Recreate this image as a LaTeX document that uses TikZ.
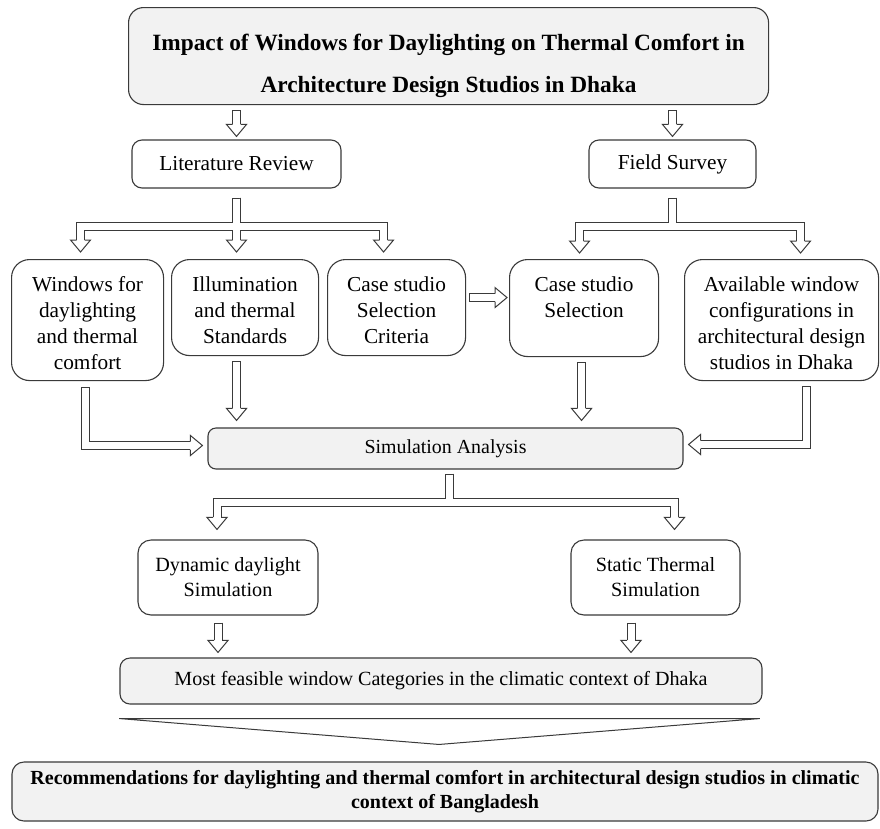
\documentclass[tikz,border=0pt]{standalone}
\usepackage{fontspec}
\setmainfont{Liberation Serif}
\usetikzlibrary{calc}
\definecolor{boxfill}{HTML}{F2F2F2}
\definecolor{linec}{HTML}{3A3A3A}
\newcommand{\tb}[4]{\parbox[c][#2][t]{#1}{\centering\rule{0pt}{#3}#4\par}}
\begin{document}
\begin{tikzpicture}[x=1pt,y=-1pt]
\tikzset{
  box/.style={draw=linec, line width=1.1pt, rounded corners=#1, inner sep=0pt, align=center, text=black},
  box/.default=10pt,
  rowfont/.style={font=\fontsize{21.3}{26}\selectfont},
  lowfont/.style={font=\fontsize{20.2}{25}\selectfont},
  so/.style={draw=linec, line width=9pt, line join=miter},
  si/.style={draw=white, line width=7pt, line join=miter},
  hdown/.pic={\filldraw[fill=white, draw=linec, line width=1pt, line join=miter] (-4,-12) -- (-10,-12) -- (0,0) -- (10,-12) -- (4,-12);},
  hright/.pic={\filldraw[fill=white, draw=linec, line width=1pt, line join=miter] (-12,-4) -- (-12,-10) -- (0,0) -- (-12,10) -- (-12,4);},
  hleft/.pic={\filldraw[fill=white, draw=linec, line width=1pt, line join=miter] (12,-4) -- (12,-10) -- (0,0) -- (12,10) -- (12,4);},
}
\useasboundingbox (0,0) rectangle (880,828);
\fill[white] (0,0) rectangle (880,828);

% ---------- nodes ----------
\node[box=15pt, fill=boxfill, anchor=north west, font=\bfseries\fontsize{23.3}{42}\selectfont] (title) at (128,7)
  {\tb{640pt}{97pt}{43pt}{Impact of Windows for Daylighting on Thermal Comfort in\\Architecture Design Studios in Dhaka}};

\node[box=10pt, minimum width=209pt, minimum height=48pt, rowfont] (lit) at (236.5,164) {Literature Review};
\node[box=10pt, minimum width=167pt, minimum height=48pt, rowfont] (field) at (672.5,164) {Field Survey};

\node[box=18pt, anchor=north west, rowfont] (win) at (11,259)
  {\tb{152pt}{121pt}{32pt}{Windows for\\daylighting\\and thermal\\comfort}};
\node[box=18pt, anchor=north west, rowfont] (ill) at (171,259)
  {\tb{147pt}{96pt}{32pt}{Illumination\\and thermal\\Standards}};
\node[box=18pt, anchor=north west, rowfont] (crit) at (327,259)
  {\tb{138pt}{96pt}{32pt}{Case studio\\Selection\\Criteria}};
\node[box=18pt, anchor=north west, rowfont] (css) at (509,259)
  {\tb{149pt}{97pt}{32pt}{Case studio\\Selection}};
\node[box=18pt, anchor=north west, rowfont] (avail) at (684,259)
  {\tb{194pt}{121pt}{32pt}{Available window\\configurations in\\architectural design\\studios in Dhaka}};

\node[box=8pt, fill=boxfill, minimum width=475pt, minimum height=41pt, font=\fontsize{19.9}{24}\selectfont] (sim) at (445.5,448.5) {Simulation Analysis};

\node[box=13pt, minimum width=180pt, minimum height=75pt, lowfont] (dyn) at (228,577.5) {Dynamic daylight\\Simulation};
\node[box=13pt, minimum width=169pt, minimum height=75pt, lowfont] (stat) at (655.5,577.5) {Static Thermal\\Simulation};

\node[box=10pt, fill=boxfill, minimum width=642pt, minimum height=46pt, font=\fontsize{20.1}{24}\selectfont] (mostf) at (441,681)
  {Most feasible window Categories in the climatic context of Dhaka};

\node[box=12pt, fill=boxfill, minimum width=866pt, minimum height=59pt, font=\bfseries\fontsize{20}{24}\selectfont] (rec) at (445,791.5)
  {Recommendations for daylighting and thermal comfort in architectural design studios in climatic\\context of Bangladesh};

% ---------- connector coordinates ----------
\coordinate (a1s) at ($(title.south -| lit.north)+(0,5)$);
\coordinate (a1t) at ($(lit.north)+(0,-3)$);
\coordinate (a2s) at ($(title.south -| field.north)+(0,5)$);
\coordinate (a2t) at ($(field.north)+(0,-3)$);

\coordinate (b0) at ($(lit.south)+(0,9)$);
\coordinate (bm) at ($(lit.south)+(0,38)$);
\coordinate (bw) at ($(win.north)+(-7,-7)$);
\coordinate (bi) at ($(lit.south |- ill.north)+(0,-7)$);
\coordinate (bc) at ($(crit.north)+(-13,-7)$);

\coordinate (f0) at ($(field.south)+(0,9)$);
\coordinate (fm) at ($(field.south)+(0,38)$);
\coordinate (fc) at ($(css.north)+(-4.5,-6)$);
\coordinate (fa) at ($(avail.north)+(19,-6)$);

\coordinate (c0) at ($(crit.east)+(3,-10)$);
\coordinate (c1) at ($(css.west |- c0)+(-2,0)$);

\coordinate (w0) at ($(win.south)+(-2,6)$);
\coordinate (wt) at ($(sim.west)+(-5,-3)$);
\coordinate (i0) at ($(ill.south)+(-8.5,5)$);
\coordinate (it) at ($(i0 |- sim.north)+(0,-7)$);
\coordinate (s0) at ($(css.south)+(-2.5,5)$);
\coordinate (st) at ($(s0 |- sim.north)+(0,-7)$);
\coordinate (v0) at ($(avail.south)+(24.5,5)$);
\coordinate (vt) at ($(sim.east)+(5,-4)$);

\coordinate (m0) at ($(sim.south)+(3.5,4)$);
\coordinate (mm) at ($(sim.south)+(3.5,33)$);
\coordinate (md) at ($(dyn.north)+(-11,-10)$);
\coordinate (ms) at ($(stat.north)+(19,-10)$);

\coordinate (d0) at ($(dyn.south)+(-10,7)$);
\coordinate (dt) at ($(d0 |- mostf.north)+(0,-5)$);
\coordinate (t0) at ($(stat.south)+(-24.5,7)$);
\coordinate (tt) at ($(t0 |- mostf.north)+(0,-5)$);

% ---------- hollow arrow bodies: outlines ----------
\draw[so] (a1s) -- ($(a1t)+(0,-12)$);
\draw[so] (a2s) -- ($(a2t)+(0,-12)$);
\draw[so] (b0) -- (bm) -| ($(bw)+(0,-12)$);
\draw[so] (bm) -| ($(bc)+(0,-12)$);
\draw[so] (b0) -- ($(bi)+(0,-12)$);
\draw[so] (f0) -- (fm) -| ($(fc)+(0,-12)$);
\draw[so] (fm) -| ($(fa)+(0,-12)$);
\draw[so] (c0) -- ($(c1)+(-12,0)$);
\draw[so] (w0) |- ($(wt)+(-12,0)$);
\draw[so] (i0) -- ($(it)+(0,-12)$);
\draw[so] (s0) -- ($(st)+(0,-12)$);
\draw[so] (v0) |- ($(vt)+(12,0)$);
\draw[so] (m0) -- (mm) -| ($(md)+(0,-12)$);
\draw[so] (mm) -| ($(ms)+(0,-12)$);
\draw[so] (d0) -- ($(dt)+(0,-12)$);
\draw[so] (t0) -- ($(tt)+(0,-12)$);

% ---------- hollow arrow bodies: interiors ----------
\draw[si] ($(a1s)+(0,1)$) -- ($(a1t)+(0,-12)$);
\draw[si] ($(a2s)+(0,1)$) -- ($(a2t)+(0,-12)$);
\draw[si] ($(b0)+(0,1)$) -- (bm) -| ($(bw)+(0,-12)$);
\draw[si] (bm) -| ($(bc)+(0,-12)$);
\draw[si] ($(b0)+(0,1)$) -- ($(bi)+(0,-12)$);
\draw[si] ($(f0)+(0,1)$) -- (fm) -| ($(fc)+(0,-12)$);
\draw[si] (fm) -| ($(fa)+(0,-12)$);
\draw[si] ($(c0)+(1,0)$) -- ($(c1)+(-12,0)$);
\draw[si] ($(w0)+(0,1)$) |- ($(wt)+(-12,0)$);
\draw[si] ($(i0)+(0,1)$) -- ($(it)+(0,-12)$);
\draw[si] ($(s0)+(0,1)$) -- ($(st)+(0,-12)$);
\draw[si] ($(v0)+(0,1)$) |- ($(vt)+(12,0)$);
\draw[si] ($(m0)+(0,1)$) -- (mm) -| ($(md)+(0,-12)$);
\draw[si] (mm) -| ($(ms)+(0,-12)$);
\draw[si] ($(d0)+(0,1)$) -- ($(dt)+(0,-12)$);
\draw[si] ($(t0)+(0,1)$) -- ($(tt)+(0,-12)$);

% ---------- arrow heads ----------
\foreach \p in {a1t,a2t,bw,bi,bc,fc,fa,it,st,md,ms,dt,tt} {\pic at (\p) {hdown};}
\pic at (c1) {hright};
\pic at (wt) {hright};
\pic at (vt) {hleft};

% ---------- wide chevron ----------
\coordinate (ch1) at ($(mostf.south west)+(0,14)$);
\coordinate (ch2) at ($(mostf.south east)+(-3,14)$);
\coordinate (ch3) at ($(rec.north)+(-6,-17)$);
\draw[draw=linec, line width=1pt, fill=white, line join=miter] (ch1) -- (ch2) -- (ch3) -- cycle;
\draw[draw=linec, line width=1.6pt] (ch1) -- (ch2);
\end{tikzpicture}
\end{document}
